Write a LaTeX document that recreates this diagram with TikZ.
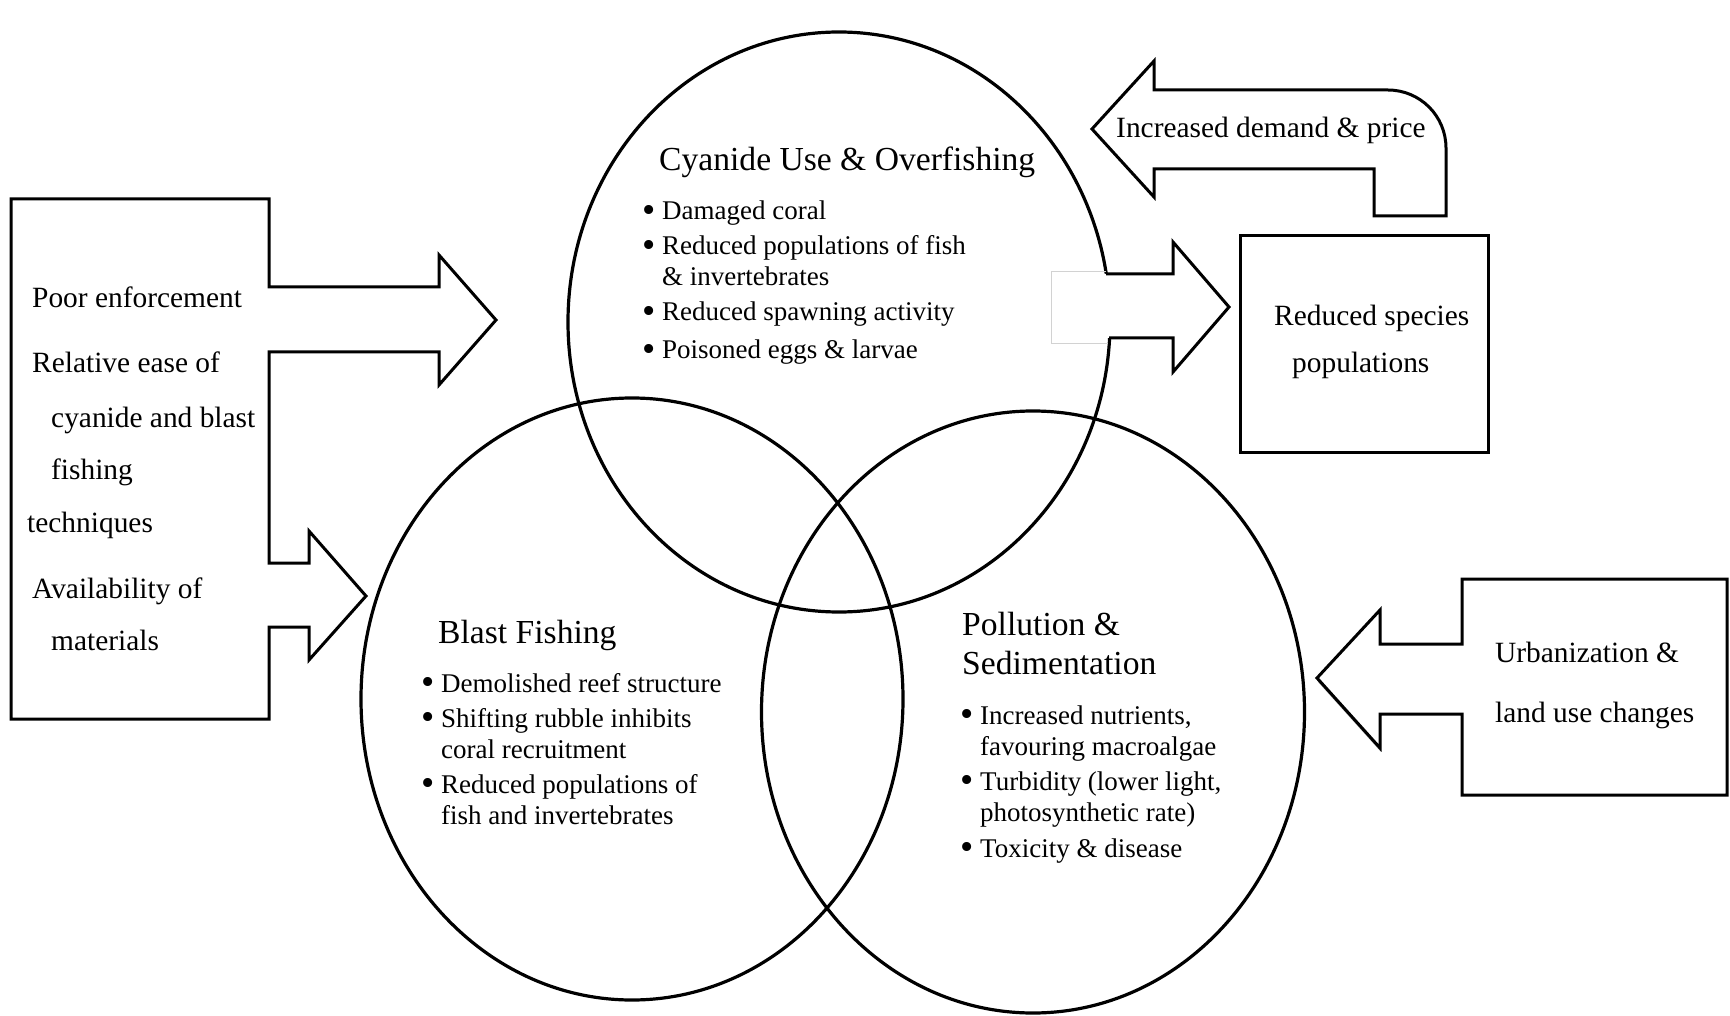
\documentclass[tikz,border=0pt]{standalone}
\usepackage{fontspec}
\setmainfont{Liberation Serif}
\usetikzlibrary{shapes.geometric}
\newcommand\itemdot{\llap{\raisebox{-2.5pt}{\scalebox{1.4}{•}}\hspace{6pt}}}
\begin{document}
\begin{tikzpicture}[
    x=1pt, y=-1pt,
    ring/.style={draw, ellipse, line width=3.2pt, inner sep=0pt},
    outline/.style={draw, line width=3pt, line join=miter, fill=white},
    boxtext/.style={anchor=base west, inner sep=0pt, font=\fontsize{29.4}{35}\selectfont},
    headtext/.style={anchor=base west, inner sep=0pt, font=\fontsize{33.6}{40}\selectfont},
    bullettext/.style={anchor=base west, inner sep=0pt, font=\fontsize{27}{32}\selectfont}
]
\useasboundingbox (0,0) rectangle (1730,1016);

% The three circles
\node[ring, minimum width=542pt, minimum height=580pt] (cyanide)   at (839,322) {};
\node[ring, minimum width=542pt, minimum height=602pt] (blast)     at (632,699) {};
\node[ring, minimum width=543pt, minimum height=602pt] (pollution) at (1033,712) {};

% Left box with its two arrows
\draw[outline] (11,199) -- (269,199) -- (269,287) -- (439,287) -- (439,255) -- (496,320)
    -- (439,385) -- (439,352) -- (269,352) -- (269,563) -- (309,563) -- (309,531)
    -- (366,596) -- (309,660) -- (309,627) -- (269,627) -- (269,719) -- (11,719) -- cycle;

\node[boxtext] (poorenf)  at (32,308) {Poor enforcement};
\node[boxtext] (release)  at (32,373) {Relative ease of};
\node[boxtext] (cyablast) at (51,427) {cyanide and blast};
\node[boxtext] (fishing)  at (51,479) {fishing};
\node[boxtext] (techn)    at (27,532) {techniques};
\node[boxtext] (avail)    at (32,598) {Availability of};
\node[boxtext] (mater)    at (51,650) {materials};

% Top right: demand arrow and species box
\draw[outline] (1092,129) -- (1154,61) -- (1154,90) -- (1388,90)
    arc[start angle=90, end angle=0, radius=58pt] -- (1446,216) -- (1374,216)
    -- (1374,169) -- (1154,169) -- (1154,197) -- cycle;
\node[boxtext] (demand) at (1116,138) {Increased demand \& price};

\fill[white] (1053,274) -- (1173,274) -- (1173,242) -- (1229,307) -- (1173,372)
    -- (1173,338) -- (1053,338) -- cycle;
\draw[gray!35, line width=1pt] (1106,272) -- (1051,272) -- (1051,344) -- (1108,344);
\draw[line width=3pt, line join=miter] (1106,274) -- (1173,274) -- (1173,242) -- (1229,307)
    -- (1173,372) -- (1173,338) -- (1109,338);

\node[draw, line width=3pt, minimum width=248pt, minimum height=216pt, inner sep=0pt]
    (species) at (1364,344) {};
\node[boxtext] (redspec) at (1274,326) {Reduced species};
\node[boxtext] (popul)   at (1292,372) {populations};

% Right box with arrow
\fill[black!30, shift={(1,4)}] (1380,610) -- (1317,678) -- (1380,748) -- cycle;
\draw[outline] (1462,579) -- (1727,579) -- (1727,795) -- (1462,795) -- (1462,714)
    -- (1380,714) -- (1380,748) -- (1317,678) -- (1380,610) -- (1380,644) -- (1462,644) -- cycle;
\node[boxtext] (urban) at (1495,662) {Urbanization \&};
\node[boxtext] (landuse) at (1495,722) {land use changes};

% Cyanide circle text
\node[headtext] (cyatitle) at (659,171) {Cyanide Use \& Overfishing};
\node[bullettext] (cya1) at (662,220) {\itemdot Damaged coral};
\node[bullettext] (cya2) at (662,255) {\itemdot Reduced populations of fish};
\node[bullettext] (cya3) at (662,286) {\& invertebrates};
\node[bullettext] (cya4) at (662,321) {\itemdot Reduced spawning activity};
\node[bullettext] (cya5) at (662,359) {\itemdot Poisoned eggs \& larvae};

% Blast circle text
\node[headtext] (blasttitle) at (438,643) {Blast Fishing};
\node[bullettext] (bla1) at (441,692) {\itemdot Demolished reef structure};
\node[bullettext] (bla2) at (441,727) {\itemdot Shifting rubble inhibits};
\node[bullettext] (bla3) at (441,758) {coral recruitment};
\node[bullettext] (bla4) at (441,793) {\itemdot Reduced populations of};
\node[bullettext] (bla5) at (441,824) {fish and invertebrates};

% Pollution circle text
\node[headtext] (poltitle) at (962,635) {Pollution \&};
\node[headtext] (sedtitle) at (962,674) {Sedimentation};
\node[bullettext] (pol1) at (980,724) {\itemdot Increased nutrients,};
\node[bullettext] (pol2) at (980,755) {favouring macroalgae};
\node[bullettext] (pol3) at (980,790) {\itemdot Turbidity (lower light,};
\node[bullettext] (pol4) at (980,821) {photosynthetic rate)};
\node[bullettext] (pol5) at (980,857) {\itemdot Toxicity \& disease};
\end{tikzpicture}
\end{document}
